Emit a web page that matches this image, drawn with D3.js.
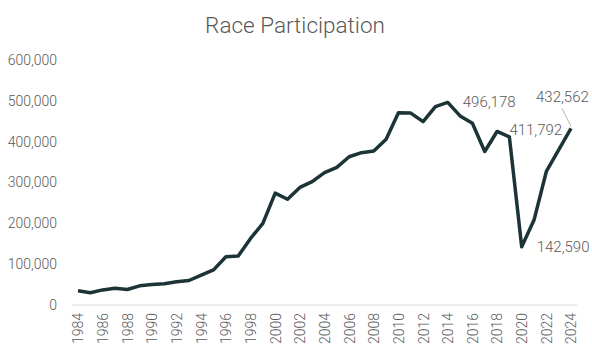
<!DOCTYPE html>
<html>
<head>
<meta charset="utf-8">
<script src="https://cdn.jsdelivr.net/npm/d3@7"></script>
<style>
  body { margin: 0; background: #fff; }
  text { font-family: Roboto, "Noto Sans", sans-serif; font-weight: 300; fill: #595959; }
</style>
</head>
<body>
<div id="chart"></div>
<script>
// Data
var years = d3.range(1984, 2025);
var participants = [
  35000, 30000, 37000, 41000, 38000, 47000, 50000, 52000, 57000, 60000,
  73000, 86000, 118000, 120000, 163000, 200000, 274000, 259000, 288000, 302000,
  324000, 337000, 363000, 373000, 377000, 406000, 471000, 470000, 449000, 486000,
  496178, 463000, 445000, 376000, 425000, 411792, 142590, 208000, 327000, 380000,
  432562
];
var yTicks = [0, 100000, 200000, 300000, 400000, 500000, 600000];
var xTicks = d3.range(1984, 2025, 2);
var labelled = [2014, 2019, 2020, 2024];

var width = 592,
  height = 351;
var marginLeft = 78,
  marginRight = 21,
  marginTop = 60,
  marginBottom = 46;

var data = years.map((d, i) => ({ year: d, value: participants[i] }));

const x = d3
  .scaleLinear()
  .domain([1984, 2024])
  .range([marginLeft, width - marginRight]);

const y = d3
  .scaleLinear()
  .domain([0, 600000])
  .range([height - marginBottom, marginTop]);

var svg = d3
  .select("#chart")
  .append("svg")
  .attr("width", width)
  .attr("height", height);

// Title
svg
  .append("text")
  .attr("x", 295)
  .attr("y", 33)
  .attr("text-anchor", "middle")
  .style("font-size", "22.5px")
  .text("Race Participation");

// y-axis
svg
  .append("g")
  .attr("transform", `translate(${marginLeft - 6},0)`)
  .call(d3.axisLeft(y).tickValues(yTicks).tickFormat(d3.format(",")).tickSize(0).tickPadding(15))
  .call((g) => g.select(".domain").remove())
  .call((g) => g.selectAll("text").style("font-size", "14px").attr("fill", null));

// x-axis
svg
  .append("g")
  .attr("transform", `translate(0,${y(0)})`)
  .call(d3.axisBottom(x).tickValues(xTicks).tickFormat(d3.format("d")).tickSize(0))
  .call((g) => g.select(".domain").attr("stroke", "#d9d9d9").attr("d", `M${marginLeft - 6},0H${width - 15}`))
  .call((g) =>
    g
      .selectAll("text")
      .attr("fill", null)
      .style("font-size", "14px")
      .attr("transform", "rotate(-90)")
      .attr("text-anchor", "end")
      .attr("x", -8)
      .attr("y", 0)
      .attr("dy", "0.35em")
  );

// Line
const line = d3
  .line()
  .x((d) => x(d.year))
  .y((d) => y(d.value));

svg
  .append("path")
  .datum(data)
  .attr("fill", "none")
  .attr("stroke", "#1c3437")
  .attr("stroke-width", 3.5)
  .attr("stroke-linejoin", "round")
  .attr("d", line);

// Data labels
var fmt = d3.format(",");
var lbl = {
  2014: { dx: 15, dy: 5 },
  2019: { dx: 0, dy: -2 },
  2020: { dx: 15, dy: 5 },
  2024: { dx: -35, dy: -26 }
};
data
  .filter((d) => labelled.includes(d.year))
  .forEach(function (d) {
    var o = lbl[d.year];
    svg
      .append("text")
      .attr("x", x(d.year) + o.dx)
      .attr("y", y(d.value) + o.dy)
      .style("font-size", "15px")
      .text(fmt(d.value));
  });

// leader line for the last point
var last = data[data.length - 1];
svg
  .append("line")
  .attr("x1", x(last.year) - 9)
  .attr("y1", y(last.value) - 20)
  .attr("x2", x(last.year))
  .attr("y2", y(last.value) - 2)
  .attr("stroke", "#a6a6a6")
  .attr("stroke-width", 0.8);
</script>
</body>
</html>
